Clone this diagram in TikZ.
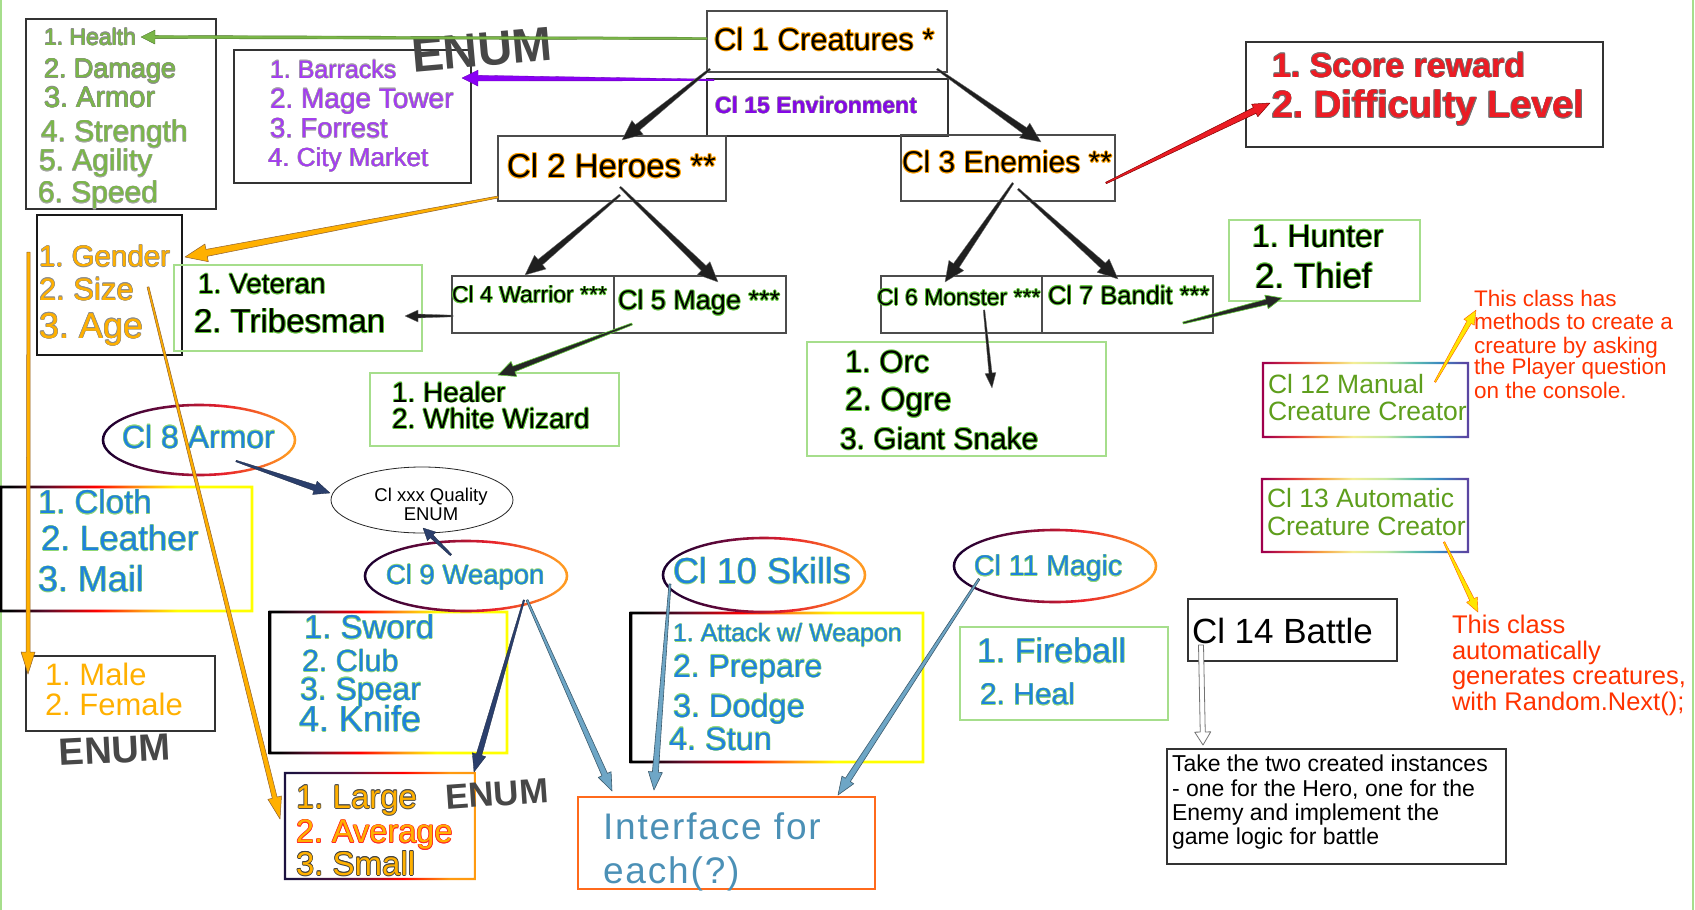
\documentclass[tikz,border=0pt]{standalone}
\usepackage{fontspec}
\setmainfont{Liberation Sans}
\usetikzlibrary{calc,shapes.geometric}

\definecolor{attrgreen}{HTML}{7AB648}
\definecolor{envpurple}{HTML}{A43CF2}
\definecolor{envpurpledk}{HTML}{8407E6}
\definecolor{arrpurple}{HTML}{8A00F5}
\definecolor{amber}{HTML}{FFB000}
\definecolor{scorered}{HTML}{EC1C24}
\definecolor{skyblue}{HTML}{1F82DC}
\definecolor{notered}{HTML}{FF3300}
\definecolor{ccgreen}{HTML}{5E9E1C}
\definecolor{ifblue}{HTML}{4B90B6}
\definecolor{boxgreen}{HTML}{A6DE8C}
\definecolor{glowgreen}{HTML}{62C83A}
\definecolor{gloworange}{HTML}{FFA200}
\definecolor{navyarrow}{HTML}{2B3F6C}
\definecolor{steelarrow}{HTML}{6EA6C6}
\definecolor{boxorange}{HTML}{FF6A1C}
\definecolor{hotdark}{HTML}{5A0A28}
\definecolor{hotorange}{HTML}{FF9A10}
\definecolor{lgnavy}{HTML}{1C1240}
\definecolor{lgpurple}{HTML}{52103E}
\definecolor{ringdark}{HTML}{1E0030}
\definecolor{ringmid}{HTML}{720A3C}
\definecolor{ringred}{HTML}{E8202C}
\definecolor{ringorange}{HTML}{FF9A22}
\definecolor{rbA}{HTML}{A0004C}
\definecolor{rbB}{HTML}{E23A3A}
\definecolor{rbC}{HTML}{F6A646}
\definecolor{rbD}{HTML}{F4EE96}
\definecolor{rbE}{HTML}{C4E8A2}
\definecolor{rbF}{HTML}{5CBCAE}
\definecolor{rbG}{HTML}{3A86C2}
\definecolor{rbH}{HTML}{5A46A2}

% gradient strokes for frames and ovals
\pgfdeclarehorizontalshading{hotframe}{100bp}{color(0bp)=(black); color(27bp)=(black); color(34bp)=(hotdark); color(44bp)=(red); color(53bp)=(hotorange); color(60bp)=(yellow); color(100bp)=(yellow)}
\pgfdeclarehorizontalshading{warmframe}{100bp}{color(0bp)=(lgnavy); color(27bp)=(lgnavy); color(42bp)=(lgpurple); color(56bp)=(red); color(68bp)=(hotorange); color(100bp)=(hotorange)}
\pgfdeclarehorizontalshading{ovalring}{100bp}{color(0bp)=(ringdark); color(27bp)=(ringdark); color(42bp)=(ringmid); color(56bp)=(ringred); color(73bp)=(ringorange); color(100bp)=(ringorange)}
\pgfdeclarehorizontalshading{rainbow}{100bp}{color(0bp)=(rbA); color(26bp)=(rbA); color(33bp)=(rbB); color(40bp)=(rbC); color(47bp)=(rbD); color(55bp)=(rbE); color(62bp)=(rbF); color(68bp)=(rbG); color(74bp)=(rbH); color(100bp)=(rbH)}

\newcommand\fsz[1]{\fontsize{#1}{#1}\selectfont}

% text with a coloured outline: #1 width, #2 outline colour, #3 text
\newcommand\halo[3]{\leavevmode\rlap{\color{#2}%
  \rlap{\kern#1\relax#3}\rlap{\kern-#1\relax#3}%
  \rlap{\raisebox{#1}{#3}}\rlap{\raisebox{-#1}{#3}}%
  \rlap{\kern\dimexpr#1*7/10\relax\raisebox{\dimexpr#1*7/10\relax}{#3}}%
  \rlap{\kern-\dimexpr#1*7/10\relax\raisebox{\dimexpr#1*7/10\relax}{#3}}%
  \rlap{\kern\dimexpr#1*7/10\relax\raisebox{-\dimexpr#1*7/10\relax}{#3}}%
  \rlap{\kern-\dimexpr#1*7/10\relax\raisebox{-\dimexpr#1*7/10\relax}{#3}}}#3}

% tapered arrow: style, start, tip, start half-width, shaft half-width, head length, head half-width
\newcommand\tarrow[7]{%
  \coordinate (tah) at ($(#3)!#6!(#2)$);
  \path[#1] ($(#2)!#4!90:(#3)$) -- ($(tah)!#5!-90:(#2)$) -- ($(tah)!#7!-90:(#2)$) -- (#3)
    -- ($(tah)!#7!90:(#2)$) -- ($(tah)!#5!90:(#2)$) -- ($(#2)!#4!-90:(#3)$) -- cycle;}

% gradient frame around a rectangular node
\newcommand\frameshade[3]{\shade[even odd rule, shading=#2]
  ([shift={(-#3,-#3)}]#1.north west) rectangle ([shift={(#3,#3)}]#1.south east)
  ([shift={(#3,#3)}]#1.north west) rectangle ([shift={(-#3,-#3)}]#1.south east);}

% gradient ring around an elliptic node
\newcommand\ringshade[3]{\shade[even odd rule, shading=ovalring]
  (#1.center) ellipse [x radius=#2pt+1.3pt, y radius=#3pt+1.3pt]
  (#1.center) ellipse [x radius=#2pt-1.3pt, y radius=#3pt-1.3pt];}

\begin{document}
\frenchspacing
\begin{tikzpicture}[x=1pt,y=-1pt,
  box/.style={anchor=north west, inner sep=0pt, outer sep=0pt},
  dframe/.style={box, draw=black!80, line width=2.5pt},
  tframe/.style={box, draw=black!70, line width=1.2pt},
  gframe/.style={box, draw=boxgreen, line width=2.2pt},
  plainbox/.style={box},
  oval/.style={ellipse, inner sep=0pt, outer sep=0pt},
  txt/.style={anchor=base west, inner sep=0pt, outer sep=0pt},
  scrawl/.style={inner sep=0pt, text=black!72},
  arblk/.style={fill=black!88, draw=black!55, line width=0.3pt, line join=round},
  arblkg/.style={fill=black!85, draw=glowgreen, line width=0.6pt, line join=round},
  argrn/.style={fill=attrgreen, draw=attrgreen!65!black, line width=0.4pt, line join=round},
  arprp/.style={fill=arrpurple, draw=arrpurple!70!black, line width=0.3pt, line join=round},
  arorg/.style={fill=amber, draw=brown!75!black, line width=0.5pt, line join=round},
  arred/.style={fill=scorered, draw=red!50!black, line width=0.5pt, line join=round},
  arnav/.style={fill=navyarrow, draw=navyarrow!60!black, line width=0.3pt, line join=round},
  arstl/.style={fill=steelarrow, draw=steelarrow!55!black, line width=0.6pt, line join=round},
  arylw/.style={fill=yellow!90!orange, draw=orange!70!red, line width=0.4pt, line join=round},
  arhol/.style={fill=white, draw=black!55, line width=0.8pt, line join=round}]

\useasboundingbox (0,0) rectangle (1695,910);
\fill[white] (0,0) rectangle (1695,910);
\draw[boxgreen, line width=2pt] (1,0) -- (1,910);
\draw[boxgreen, line width=2pt] (1693,0) -- (1693,910);

% ---------- rectangular boxes ----------
\node[dframe, minimum width=190pt, minimum height=190pt] (attr) at (26,19) {};
\node[dframe, minimum width=237pt, minimum height=133pt] (envlist) at (234,50) {};
\node[tframe, minimum width=240pt, minimum height=61pt] (c1) at (707,11) {};
\node[dframe, minimum width=241pt, minimum height=57pt] (c15) at (707,79) {};
\node[tframe, minimum width=228pt, minimum height=65pt] (c2) at (498,136) {};
\node[tframe, minimum width=214pt, minimum height=66pt] (c3) at (901,135) {};
\node[tframe, minimum width=162pt, minimum height=57pt] (c4) at (452,276) {};
\node[tframe, minimum width=172pt, minimum height=57pt] (c5) at (614,276) {};
\node[tframe, minimum width=161pt, minimum height=57pt] (c6) at (881,276) {};
\node[tframe, minimum width=171pt, minimum height=57pt] (c7) at (1042,276) {};
\node[dframe, draw=black!90, line width=2.2pt, minimum width=145pt, minimum height=140pt] (gender) at (37,215) {};
\node[gframe, minimum width=248pt, minimum height=86pt] (vet) at (174,265) {};
\node[gframe, minimum width=249pt, minimum height=73pt] (healer) at (370,373) {};
\node[gframe, minimum width=299pt, minimum height=114pt] (orcs) at (807,342) {};
\node[gframe, minimum width=191pt, minimum height=81pt] (hunter) at (1229,220) {};
\node[dframe, minimum width=357pt, minimum height=105pt] (score) at (1246,42) {};
\node[plainbox, minimum width=205pt, minimum height=74pt] (cc12) at (1263,363) {};
\node[plainbox, minimum width=206pt, minimum height=73pt] (cc13) at (1262,479) {};
\node[dframe, minimum width=209pt, minimum height=62pt] (battle) at (1188,599) {};
\node[dframe, line width=2pt, minimum width=339pt, minimum height=115pt] (take) at (1167,749) {};
\node[plainbox, minimum width=251pt, minimum height=124pt] (cloth) at (1,487) {};
\node[plainbox, minimum width=237pt, minimum height=141pt] (sword) at (270,612) {};
\node[plainbox, minimum width=190pt, minimum height=106pt] (large) at (285,773) {};
\node[dframe, minimum width=189pt, minimum height=75pt] (male) at (26,656) {};
\node[plainbox, minimum width=292pt, minimum height=149pt] (skl) at (631,613) {};
\node[gframe, minimum width=208pt, minimum height=93pt] (fire) at (960,627) {};
\node[box, draw=boxorange, line width=2pt, minimum width=297pt, minimum height=92pt] (iface) at (578,797) {};

\frameshade{cc12}{rainbow}{1.2}
\frameshade{cc13}{rainbow}{1.2}
\frameshade{cloth}{hotframe}{1.3}
\frameshade{sword}{hotframe}{1.3}
\frameshade{skl}{hotframe}{1.3}
\frameshade{large}{warmframe}{1.2}

% ---------- ovals ----------
\node[oval, minimum width=192pt, minimum height=70pt] (armor) at (199,440) {};
\node[oval, draw=black!85, line width=0.8pt, minimum width=182pt, minimum height=66pt] (quality) at (422,500) {};
\node[oval, minimum width=202pt, minimum height=70pt] (weapon) at (466,576) {};
\node[oval, minimum width=202pt, minimum height=74pt] (skills) at (764,575) {};
\node[oval, minimum width=202pt, minimum height=72pt] (magic) at (1055,566) {};
\ringshade{armor}{96}{35}
\ringshade{weapon}{101}{35}
\ringshade{skills}{101}{37}
\ringshade{magic}{101}{36}

% ---------- texts ----------
\begin{scope}[every node/.append style={txt}]
% creature attributes
\node[font=\fsz{23}, text=attrgreen] (t-hp) at (44,45.3) {\halo{0.5pt}{black!45}{1. Health}};
\node[font=\fsz{27}, text=attrgreen] (t-dmg) at (44,77.7) {\halo{0.5pt}{black!45}{2. Damage}};
\node[font=\fsz{29}, text=attrgreen] (t-arm) at (44,107.4) {\halo{0.5pt}{black!45}{3. Armor}};
\node[font=\fsz{30}, text=attrgreen] (t-str) at (41,141.8) {\halo{0.5pt}{black!35}{4. Strength}};
\node[font=\fsz{30}, text=attrgreen] (t-agi) at (39,170.8) {\halo{0.5pt}{black!35}{5. Agility}};
\node[font=\fsz{30}, text=attrgreen] (t-spd) at (38,202.8) {\halo{0.5pt}{black!35}{6. Speed}};
% environments
\node[font=\fsz{25}, text=envpurple] (t-bar) at (270,78) {\halo{0.4pt}{black!35}{1. Barracks}};
\node[font=\fsz{28}, text=envpurple] (t-mt) at (270,108.1) {\halo{0.4pt}{black!35}{2. Mage Tower}};
\node[font=\fsz{27.5}, text=envpurple] (t-for) at (270,137.9) {\halo{0.4pt}{black!35}{3. Forrest}};
\node[font=\fsz{26}, text=envpurple] (t-cm) at (268,166.4) {\halo{0.4pt}{black!35}{4. City Market}};
% class hierarchy
\node[font=\fsz{31}] (t-c1) at (714,50.2) {\halo{0.9pt}{gloworange}{Cl 1 Creatures *}};
\node[font=\fsz{23}\bfseries, text=envpurpledk] (t-c15) at (715,113.3) {\halo{0.4pt}{black!40}{Cl 15 Environment}};
\node[font=\fsz{33}] (t-c2) at (507,177.4) {\halo{0.9pt}{gloworange}{Cl 2 Heroes **}};
\node[font=\fsz{30}] (t-c3) at (902,172.8) {\halo{0.9pt}{gloworange}{Cl 3 Enemies **}};
\node[font=\fsz{23}] (t-c4) at (452,302.8) {\halo{0.8pt}{glowgreen}{Cl 4 Warrior ***}};
\node[font=\fsz{27}] (t-c5) at (618,309.7) {\halo{0.8pt}{glowgreen}{Cl 5 Mage ***}};
\node[font=\fsz{23}] (t-c6) at (877,305.3) {\halo{0.8pt}{glowgreen}{Cl 6 Monster ***}};
\node[font=\fsz{25.5}] (t-c7) at (1048,304.2) {\halo{0.8pt}{glowgreen}{Cl 7 Bandit ***}};
% subtypes
\node[font=\fsz{28}] (t-vet) at (198,293.6) {\halo{0.8pt}{glowgreen}{1. Veteran}};
\node[font=\fsz{33}] (t-tri) at (194,332.9) {\halo{0.8pt}{glowgreen}{2. Tribesman}};
\node[font=\fsz{28}] (t-heal) at (392,402.1) {\halo{0.8pt}{glowgreen}{1. Healer}};
\node[font=\fsz{28}] (t-ww) at (392,428.6) {\halo{0.8pt}{glowgreen}{2. White Wizard}};
\node[font=\fsz{31}] (t-orc) at (845,372.7) {\halo{0.8pt}{glowgreen}{1. Orc}};
\node[font=\fsz{32}] (t-ogre) at (845,410.5) {\halo{0.8pt}{glowgreen}{2. Ogre}};
\node[font=\fsz{30}] (t-snake) at (840,449.3) {\halo{0.8pt}{glowgreen}{3. Giant Snake}};
\node[font=\fsz{32}] (t-hunt) at (1252,247) {\halo{0.8pt}{glowgreen}{1. Hunter}};
\node[font=\fsz{35}] (t-thief) at (1255,288.1) {\halo{0.8pt}{glowgreen}{2. Thief}};
% hero attributes
\node[font=\fsz{29.5}, text=amber] (t-gen) at (39,266.6) {\halo{0.5pt}{black!45}{1. Gender}};
\node[font=\fsz{31}, text=amber] (t-size) at (39,300.2) {\halo{0.5pt}{black!45}{2. Size}};
\node[font=\fsz{36}, text=amber] (t-age) at (39,338) {\halo{0.5pt}{black!45}{3. Age}};
% enemy rewards
\node[font=\fsz{34}\bfseries, text=scorered] (t-score) at (1272,77.2) {\halo{0.7pt}{black!55}{1. Score reward}};
\node[font=\fsz{38}\bfseries, text=scorered] (t-diff) at (1272,117.7) {\halo{0.7pt}{black!55}{2. Difficulty Level}};
% creators
\node[font=\fsz{26.5}, text=ccgreen] (t-cc12a) at (1268,393.5) {Cl 12 Manual};
\node[font=\fsz{26.5}, text=ccgreen] (t-cc12b) at (1268,420.5) {Creature Creator};
\node[font=\fsz{26.5}, text=ccgreen] (t-cc13a) at (1267,507.5) {Cl 13 Automatic};
\node[font=\fsz{26.5}, text=ccgreen] (t-cc13b) at (1267,535) {Creature Creator};
\node[font=\fsz{22.5}, text=notered] (n1a) at (1474,306.1) {This class has};
\node[font=\fsz{22.5}, text=notered] (n1b) at (1474,329.1) {methods to create a};
\node[font=\fsz{22.5}, text=notered] (n1c) at (1474,353.1) {creature by asking};
\node[font=\fsz{22.5}, text=notered] (n1d) at (1474,374.6) {the Player question};
\node[font=\fsz{22.5}, text=notered] (n1e) at (1474,398.1) {on the console.};
\node[font=\fsz{25.5}, text=notered] (n2a) at (1452,633.2) {This class};
\node[font=\fsz{25.5}, text=notered] (n2b) at (1452,659.2) {automatically};
\node[font=\fsz{25.5}, text=notered] (n2c) at (1452,684.7) {generates creatures,};
\node[font=\fsz{25.5}, text=notered] (n2d) at (1452,710.2) {with Random.Next();};
% battle
\node[font=\fsz{35}] (t-battle) at (1192,643.6) {Cl 14 Battle};
\node[font=\fsz{23}] (t-take1) at (1172,771.8) {Take the two created instances};
\node[font=\fsz{23}] (t-take2) at (1172,796.3) {- one for the Hero, one for the};
\node[font=\fsz{23}] (t-take3) at (1172,820.3) {Enemy and implement the};
\node[font=\fsz{23}] (t-take4) at (1172,844.3) {game logic for battle};
% equipment
\node[font=\fsz{32}, text=skyblue] (t-armor) at (122,448) {\halo{0.5pt}{glowgreen!70}{Cl 8 Armor}};
\node[font=\fsz{27.5}, text=skyblue] (t-weapon) at (386,584.4) {\halo{0.5pt}{glowgreen!70}{Cl 9 Weapon}};
\node[font=\fsz{33}, text=skyblue] (t-cloth) at (38,513.9) {\halo{0.5pt}{glowgreen!70}{1. Cloth}};
\node[font=\fsz{35}, text=skyblue] (t-leather) at (41,550.6) {\halo{0.5pt}{glowgreen!70}{2. Leather}};
\node[font=\fsz{36}, text=skyblue] (t-mail) at (38,591.5) {\halo{0.5pt}{glowgreen!70}{3. Mail}};
\node[font=\fsz{33}, text=skyblue] (t-sword) at (304,638.9) {\halo{0.5pt}{glowgreen!70}{1. Sword}};
\node[font=\fsz{30.5}, text=skyblue] (t-club) at (302,671.5) {\halo{0.5pt}{glowgreen!70}{2. Club}};
\node[font=\fsz{32}, text=skyblue] (t-spear) at (300,700) {\halo{0.5pt}{glowgreen!70}{3. Spear}};
\node[font=\fsz{36}, text=skyblue] (t-knife) at (299,731.5) {\halo{0.5pt}{glowgreen!70}{4. Knife}};
\node[font=\fsz{33}, text=amber] (t-large) at (296,808.4) {\halo{0.7pt}{black!70}{1. Large}};
\node[font=\fsz{32.5}, text=amber] (t-avg) at (296,842.7) {\halo{0.7pt}{red!85}{2. Average}};
\node[font=\fsz{33}, text=amber] (t-small) at (296,875.4) {\halo{0.7pt}{black!75}{3. Small}};
\node[font=\fsz{31}, text=amber] (t-male) at (45,685.7) {1. Male};
\node[font=\fsz{31}, text=amber] (t-female) at (45,715.2) {2. Female};
% skills and magic
\node[font=\fsz{36}, text=skyblue] (t-skills) at (673,583.5) {\halo{0.5pt}{glowgreen!70}{Cl 10 Skills}};
\node[font=\fsz{28.5}, text=skyblue] (t-magic) at (974,575.8) {\halo{0.5pt}{glowgreen!70}{Cl 11 Magic}};
\node[font=\fsz{25}, text=skyblue] (t-atk) at (673,641.5) {\halo{0.5pt}{glowgreen!70}{1. Attack w/ Weapon}};
\node[font=\fsz{32}, text=skyblue] (t-prep) at (673,677) {\halo{0.5pt}{glowgreen!70}{2. Prepare}};
\node[font=\fsz{32.5}, text=skyblue] (t-dodge) at (673,717.2) {\halo{0.5pt}{glowgreen!70}{3. Dodge}};
\node[font=\fsz{32.5}, text=skyblue] (t-stun) at (669,750.2) {\halo{0.5pt}{glowgreen!70}{4. Stun}};
\node[font=\fsz{34}, text=skyblue] (t-fire) at (977,662.7) {\halo{0.5pt}{glowgreen!70}{1. Fireball}};
\node[font=\fsz{30}, text=skyblue] (t-healsp) at (980,704.8) {\halo{0.5pt}{glowgreen!70}{2. Heal}};
\node[font=\fsz{37}\addfontfeature{LetterSpace=5}, text=ifblue] (t-if1) at (603,839) {Interface for};
\node[font=\fsz{37}\addfontfeature{LetterSpace=5}, text=ifblue] (t-if2) at (603,883) {each(?)};
\end{scope}

\node[anchor=base, inner sep=0pt, font=\fsz{18.5}] (t-q1) at (431,501) {Cl xxx Quality};
\node[anchor=base, inner sep=0pt, font=\fsz{18.5}] (t-q2) at (431,520) {ENUM};

% hand-written enum marks
\node[scrawl, font=\fsz{48}\bfseries, rotate=5] (enumA) at (482,50) {ENUM};
\node[scrawl, font=\fsz{38}\bfseries, rotate=3] (enumB) at (115,750) {ENUM};
\node[scrawl, font=\fsz{35}\bfseries, rotate=4] (enumC) at (497,794) {ENUM};

% ---------- connectors ----------
\coordinate (gS) at ([shift={(0,-3)}]c1.west);
\coordinate (gE) at ([shift={(115,18)}]attr.north west);
\tarrow{argrn}{gS}{gE}{1.2pt}{1.6pt}{14pt}{7pt}

\coordinate (pS) at ([shift={(7,1)}]c15.north west);
\coordinate (pE) at ([shift={(228,28)}]envlist.north west);
\tarrow{arprp}{pS}{pE}{0.8pt}{2.8pt}{16pt}{8pt}

\coordinate (h1S) at ([shift={(3,58)}]c1.north west);
\coordinate (h1E) at ([shift={(124,4)}]c2.north west);
\tarrow{arblk}{h1S}{h1E}{1pt}{3.5pt}{20pt}{9pt}
\coordinate (h2S) at ([shift={(230,58)}]c1.north west);
\coordinate (h2E) at ([shift={(140,7)}]c3.north west);
\tarrow{arblk}{h2S}{h2E}{1pt}{3.5pt}{20pt}{9pt}
\coordinate (h3S) at ([shift={(122,59)}]c2.north west);
\coordinate (h3E) at ([shift={(73,-1)}]c4.north west);
\tarrow{arblk}{h3S}{h3E}{1pt}{3.5pt}{20pt}{9pt}
\coordinate (h4S) at ([shift={(122,51)}]c2.north west);
\coordinate (h4E) at ([shift={(104,6)}]c5.north west);
\tarrow{arblk}{h4S}{h4E}{1pt}{3.5pt}{20pt}{9pt}
\coordinate (h5S) at ([shift={(112,48)}]c3.north west);
\coordinate (h5E) at ([shift={(64,6)}]c6.north west);
\tarrow{arblk}{h5S}{h5E}{1pt}{3.5pt}{20pt}{9pt}
\coordinate (h6S) at ([shift={(117,54)}]c3.north west);
\coordinate (h6E) at ([shift={(76,3)}]c7.north west);
\tarrow{arblk}{h6S}{h6E}{1pt}{3.5pt}{20pt}{9pt}

\coordinate (wS) at ([shift={(1,40)}]c4.north west);
\coordinate (wE) at ([shift={(231,51)}]vet.north west);
\tarrow{arblk}{wS}{wE}{0.8pt}{2pt}{13pt}{6pt}
\coordinate (mS) at ([shift={(18,48)}]c5.north west);
\coordinate (mE) at ([shift={(128,2)}]healer.north west);
\tarrow{arblkg}{mS}{mE}{1pt}{3pt}{17pt}{8pt}
\coordinate (oS) at ([shift={(103,34)}]c6.north west);
\coordinate (oE) at ([shift={(185,46)}]orcs.north west);
\tarrow{arblk}{oS}{oE}{0.8pt}{1.6pt}{15pt}{5.5pt}
\coordinate (bS) at ([shift={(141,47)}]c7.north west);
\coordinate (bE) at ([shift={(53,78)}]hunter.north west);
\tarrow{arblkg}{bS}{bE}{1pt}{2.8pt}{16pt}{7pt}
\coordinate (rS) at ([shift={(205,48)}]c3.north west);
\coordinate (rE) at ([shift={(24,61)}]score.north west);
\tarrow{arred}{rS}{rE}{0.8pt}{3.2pt}{17pt}{7pt}

\coordinate (oaS) at ([shift={(0,61)}]c2.north west);
\coordinate (oaE) at ([shift={(148,42)}]gender.north west);
\tarrow{arorg}{oaS}{oaE}{1pt}{3.5pt}{22pt}{9pt}
\coordinate (obS) at ([shift={(-8.5,37)}]gender.north west);
\coordinate (obE) at ([shift={(2,18)}]male.north west);
\tarrow{arorg}{obS}{obE}{1.5pt}{2pt}{22pt}{7pt}
\coordinate (ocS) at ([shift={(111,72)}]gender.north west);
\coordinate (ocE) at ([shift={(-5,46)}]large.north west);
\tarrow{arorg}{ocS}{ocE}{1pt}{2.5pt}{22pt}{7pt}

\coordinate (qaS) at ([shift={(37,21)}]armor.center);
\coordinate (qaE) at ([shift={(-92,-7)}]quality.center);
\tarrow{arnav}{qaS}{qaE}{0.8pt}{3pt}{16pt}{7pt}
\coordinate (qbS) at ([shift={(-15,-21)}]weapon.center);
\coordinate (qbE) at ([shift={(1,28)}]quality.center);
\tarrow{arnav}{qbS}{qbE}{1pt}{2pt}{12pt}{6pt}
\coordinate (lgS) at ([shift={(58,24)}]weapon.center);
\coordinate (lgE) at ([shift={(189,-1)}]large.north west);
\tarrow{arnav}{lgS}{lgE}{0.8pt}{2.8pt}{18pt}{7pt}

\coordinate (i1S) at ([shift={(61,24)}]weapon.center);
\coordinate (i1E) at ([shift={(34,-6)}]iface.north west);
\tarrow{arstl}{i1S}{i1E}{1pt}{3pt}{18pt}{7pt}
\coordinate (i2S) at ([shift={(-94,9)}]skills.center);
\coordinate (i2E) at ([shift={(76,-7)}]iface.north west);
\tarrow{arstl}{i2S}{i2E}{1pt}{3pt}{18pt}{7pt}
\coordinate (i3S) at ([shift={(-76,13)}]magic.center);
\coordinate (i3E) at ([shift={(260,-2)}]iface.north west);
\tarrow{arstl}{i3S}{i3E}{1pt}{3pt}{18pt}{7pt}

\coordinate (yaS) at ([shift={(172,19)}]cc12.north west);
\coordinate (yaE) at ([shift={(2,-19)}]n1b.base west);
\tarrow{arylw}{yaS}{yaE}{0.8pt}{2.5pt}{14pt}{6pt}
\coordinate (ybS) at ([shift={(182,63)}]cc13.north west);
\coordinate (ybE) at ([shift={(26,-21)}]n2a.base west);
\tarrow{arylw}{ybS}{ybE}{0.8pt}{2.5pt}{14pt}{6pt}

\coordinate (tkS) at ([shift={(13,46)}]battle.north west);
\coordinate (tkE) at ([shift={(36,-4)}]take.north west);
\tarrow{arhol}{tkS}{tkE}{2.5pt}{2.5pt}{13pt}{8pt}

\end{tikzpicture}
\end{document}
